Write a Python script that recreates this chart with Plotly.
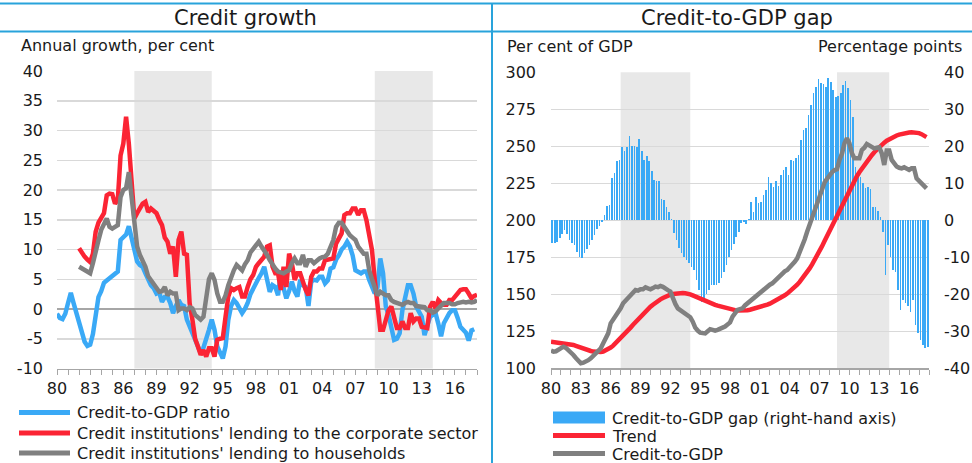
import plotly.graph_objects as go

W, H = 972, 463
def px(x): return x / W
def py(y): return 1 - y / H

# ---------------- data (quarterly) ----------------
# Left panel: annual growth, per cent
ratio_growth_start = 1980  # 1980Q1 .. 2017Q4
ratio_growth = [
    -0.8, -1.5, -1.7, -0.8,   1.0, 2.7, 1.0, -0.7,   -2.5, -4.4, -5.5, -6.2,
    -6.0, -4.2, -1.0, 2.0,    3.0, 4.4, 4.8, 5.2,    5.4, 5.9, 6.3, 11.6,
    12.0, 12.5, 13.9, 12.0,   9.9, 8.0, 7.4, 7.1,    6.0, 4.9, 4.0, 3.5,
    2.6, 2.8, 1.2, 2.0,       2.0, 1.0, -0.7, 0.5,   1.5, 0.7, 0.5, -1.8,
    -3.0, -4.1, -5.5, -6.5,   -7.4, -6.5, -5.2, -3.5, -1.8, -3.5, -6.3, -7.5,
    -8.3, -6.3, -1.8, 0.5,    1.5, 1.0, 0.2, -0.7,   0.0, 1.0, 2.5, 3.5,
    4.6, 5.2, 6.0, 7.1,       5.0, 2.9, 4.0, 3.7,    2.3, 6.0, 3.5, 1.8,
    3.0, 4.6, 3.0, 2.1,       4.9, 4.0, 3.7, 0.5,    4.6, 4.9, 4.8, 5.4,
    5.4, 4.3, 4.8, 6.8,       7.0, 8.3, 9.0, 10.0,   10.5, 11.3, 10.5, 9.0,
    6.5, 6.2, 6.0, 6.3,       6.3, 4.9, 3.5, 2.6,    3.7, 8.5, 6.0, 0.4,
    -1.0, -3.0, -5.2, -5.0,   -4.1, -0.2, 2.0, 4.0,  4.0, 2.6, 0.4, -0.5,
    -1.3, -4.4, -2.5, -1.3,   -1.0, -0.7, -2.5, -4.6, -2.4, -1.5, -0.7, -0.2,
    -0.2, -1.5, -3.0, -3.5,   -4.0, -5.3, -3.6, -3.4,
]
corp_start = 1982  # 1982Q1 .. 2018Q1
corp_lending = [
    10.2, 9.3, 8.8, 8.3,      7.9, 9.3, 13.0, 14.5,  15.2, 16.1, 19.1, 19.4,
    19.3, 17.7, 18.3, 25.8,   27.8, 32.3, 27.8, 20.5, 15.2, 16.1, 17.0, 17.7,
    18.0, 16.3, 16.9, 16.5,   16.1, 15.0, 14.1, 12.0, 11.3, 9.3, 10.5, 5.4,
    11.6, 13.0, 9.3, 9.1,     1.0, -1.8, -5.0, -6.3, -7.7, -6.9, -8.0, -6.6,
    -6.6, -8.0, -5.2, -5.0,   -4.9, -1.3, 2.1, 3.5,  3.2, 3.5, 3.7, 2.1,
    2.1, 3.7, 5.0, 5.7,       7.1, 7.7, 8.2, 8.8,    10.5, 10.7, 7.1, 6.0,
    6.0, 3.2, 7.1, 3.7,       9.3, 7.7, 4.9, 6.0,    6.0, 4.3, 3.2, 2.3,
    5.4, 6.3, 6.3, 6.8,       6.8, 8.2, 8.3, 8.5,    8.5, 11.0, 12.0, 12.7,
    15.8, 16.1, 16.1, 16.9,   16.9, 15.8, 16.6, 16.6, 14.9, 12.7, 9.9, 4.9,
    0.4, -3.5, -3.5, -1.8,    -0.2, 0.4, -1.3, -3.2, -3.2, -2.1, -3.2, -3.2,
    -0.7, -2.1, -1.6, -1.6,   -3.0, -3.2, -3.2, 0.4, 1.2, 0.1, 1.5, 1.0,
    0.7, 0.7, 1.5, 1.5,       2.1, 2.6, 3.2, 3.3,    3.3, 2.6, 1.8, 2.2,
    2.4,
]
hh_start = 1982  # 1982Q1 .. 2018Q1
hh_lending = [
    7.1, 6.8, 6.5, 6.2,       6.0, 7.7, 10.0, 11.5,  13.3, 14.3, 15.2, 13.8,
    13.5, 13.8, 14.1, 18.8,   20.0, 20.3, 23.0, 18.8, 14.4, 10.5, 9.1, 8.0,
    7.1, 5.5, 4.9, 4.0,       3.5, 2.9, 3.0, 3.7,    2.3, 2.9, 2.6, 2.6,
    -0.2, 0.1, 0.1, -0.2,     0.3, 0.1, -1.0, -1.5,  -1.8, -1.3, 2.6, 5.0,
    6.0, 4.9, 2.6, 1.2,       1.2, 2.3, 4.0, 5.4,    6.5, 7.4, 6.9, 6.5,
    7.5, 8.2, 9.5, 10.2,      10.8, 11.3, 10.5, 9.9, 9.1, 8.2, 7.4, 6.8,
    6.3, 6.2, 6.0, 6.3,       6.5, 7.7, 8.5, 7.7,    7.7, 9.1, 7.1, 8.2,
    8.2, 7.7, 8.2, 8.5,       8.7, 8.8, 9.3, 10.5,   11.6, 13.8, 14.5, 14.5,
    13.8, 13.0, 12.4, 12.0,   11.6, 10.5, 10.0, 9.3, 9.3, 6.5, 5.0, 3.7,
    2.3, 2.9, 2.6, 2.3,       2.3, 1.5, 1.2, 1.0,    1.0, 0.7, 1.0, 1.2,
    1.0, 1.0, 0.5, 0.4,       0.3, 0.3, -0.2, -0.2,  -0.6, -0.4, 0.1, 0.5,
    1.0, 1.0, 1.0, 0.8,       0.8, 1.0, 1.1, 1.2,    1.1, 1.2, 1.1, 1.2,
    1.5,
]

# Right panel: 1980Q1 .. 2017Q4
gdp_start = 1980
credit_gap = [
    -6.0, -6.2, -5.8, -4.9,   -3.7, -2.6, -3.8, -5.3, -6.2, -6.7, -8.5, -9.8,
    -10.3, -8.9, -7.8, -6.7,  -5.3, -4.0, -2.4, -1.5, -0.4, 1.4, 4.0, 4.1,
    11.4, 12.7, 15.9, 16.3,   19.7, 18.8, 19.9, 22.8, 20.1, 20.1, 19.7, 22.0,
    18.8, 16.3, 17.4, 15.9,   13.2, 10.9, 10.7, 10.5, 5.7, 5.5, 3.7, 2.3,
    0.3, -3.5, -5.3, -7.6,    -8.9, -9.8, -10.7, -11.6, -12.5, -13.4, -16.1, -18.8,
    -22.0, -21.1, -20.0, -18.8, -17.5, -17.5, -17.5, -17.0, -15.5, -14.0, -12.0, -10.0,
    -8.0, -6.5, -4.4, -3.1,   -0.8, -0.4, -1.0, 0.3, 5.0, 2.3, 6.2, 4.6,
    5.0, 6.8, 8.2, 11.8,      10.2, 9.1, 10.7, 9.3,  12.3, 13.6, 14.3, 12.3,
    16.3, 16.0, 16.8, 17.7,   21.7, 24.4, 24.9, 28.5, 31.2, 34.3, 36.1, 38.1,
    37.0, 36.8, 36.1, 38.4,   37.5, 35.2, 33.2, 33.6, 34.3, 36.6, 37.7, 35.7,
    32.5, 28.0, 14.5, 12.3,   11.8, 10.0, 8.8, 9.1,  8.4, 3.7, 3.7, 2.6,
    1.0, -3.1, -14.8, -6.7,   -10.0, -13.4, -13.9, -18.8, -24.2, -21.5, -22.4, -23.2,
    -24.7, -21.5, -28.3, -30.5, -32.3, -33.7, -34.6, -34.2,
]
trend = [
    118.0, 117.8, 117.5, 117.3, 117.2, 117.0, 116.9, 116.6, 116.3, 115.8, 115.2, 114.5,
    113.8, 113.2, 112.6, 112.0, 111.7, 111.3, 111.0, 110.9, 111.0, 111.3, 112.0, 113.0,
    114.0, 115.3, 116.9, 118.5, 120.3, 122.0, 123.8, 125.6, 127.5, 129.4, 131.3, 133.2,
    135.0, 136.6, 138.3, 140.0, 141.6, 143.0, 144.4, 145.6, 146.6, 147.5, 148.4, 149.2,
    149.8, 150.2, 150.5, 150.7, 150.8, 150.8, 150.7, 150.5, 150.0, 149.3, 148.5, 147.7,
    146.9, 146.2, 145.5, 145.0, 144.2, 143.5, 142.9, 142.3, 141.8, 141.3, 140.8, 140.3,
    139.9, 139.6, 139.3, 139.1, 139.0, 139.0, 139.1, 139.3, 139.6, 140.0, 140.4, 140.8,
    141.3, 141.8, 142.4, 143.0, 143.7, 144.5, 145.3, 146.2, 147.2, 148.2, 149.3, 150.5,
    151.8, 153.2, 154.8, 156.5, 158.4, 160.4, 162.6, 165.0, 167.5, 170.2, 173.0, 176.0,
    179.2, 182.5, 186.0, 189.5, 193.0, 196.5, 200.0, 203.5, 207.0, 210.5, 214.0, 217.5,
    220.8, 224.0, 227.0, 229.8, 232.5, 235.0, 237.5, 239.8, 242.0, 244.0, 246.0, 247.8,
    249.5, 251.0, 252.5, 253.8, 254.8, 255.8, 256.6, 257.3, 257.9, 258.4, 258.8, 259.1,
    259.3, 259.5, 259.5, 259.3, 258.9, 258.2, 257.3, 256.2,
]
credit_to_gdp = [
    112.0, 111.3, 111.5, 112.5, 113.3, 114.6, 113.8, 112.4, 111.0, 109.0, 107.0, 105.0,
    103.4, 103.8, 104.5, 105.5, 106.8, 108.3, 110.1, 111.8, 113.5, 116.9, 120.0, 123.6,
    130.4, 133.0, 134.5, 138.3, 140.5, 143.9, 145.5, 147.3, 149.0, 150.7, 152.9, 152.5,
    153.4, 153.4, 154.7, 154.0, 153.4, 154.2, 155.2, 154.8, 155.6, 155.0, 153.4, 152.8,
    151.8, 147.3, 143.5, 140.5, 139.2, 138.3, 137.5, 136.0, 134.5, 131.5, 127.5, 125.5,
    124.1, 123.8, 123.6, 125.0, 126.4, 126.0, 125.5, 126.0, 126.4, 127.5, 128.2, 129.5,
    131.0, 134.9, 137.0, 139.4, 140.0, 140.5, 142.5, 143.9, 145.5, 147.3, 148.5, 149.5,
    151.0, 152.9, 154.5, 155.6, 156.5, 157.4, 159.0, 160.8, 163.0, 164.2, 165.5, 166.4,
    168.0, 169.8, 172.0, 174.3, 178.0, 182.2, 187.0, 192.3, 197.0, 203.0, 208.0, 212.0,
    218.0, 222.0, 225.5, 228.0, 231.0, 232.5, 234.0, 234.5, 240.8, 245.0, 252.0, 255.4,
    252.0, 245.3, 241.9, 241.9, 241.9, 247.5, 249.0, 251.6, 250.5, 250.2, 248.6, 249.0,
    249.3, 245.3, 237.4, 247.1, 247.1, 240.8, 238.5, 236.3, 235.5, 235.1, 235.8, 235.0,
    234.0, 235.1, 235.1, 228.4, 226.5, 225.0, 223.0, 221.6,
]

shaded_periods = [(1987.0, 1994.0), (2008.75, 2014.0)]
tick_years = list(range(1980, 2017, 3))
tick_text = [str(y)[2:] for y in tick_years]
growth_ticks = list(range(-10, 41, 5))
gdp_ticks = list(range(100, 301, 25))
gap_ticks = list(range(-40, 41, 10))

# ---------------- colours ----------------
BLUE = "#3aa9f6"
RED = "#fb2434"
GREY = "#808080"
HEAD = "#29a3db"
GRID = "#d9d9d9"
SHADE = "#e8e8e8"
TXT = "#1a1a1a"
FONT = "DejaVu Sans"

def qx(start, n, off=0.0):
    return [start + i / 4 + off for i in range(n)]

def labels(vals):
    return [str(v) for v in vals]   # plain hyphen-minus, as in the original

fig = go.Figure()

fig.add_trace(go.Scatter(x=qx(ratio_growth_start, len(ratio_growth)), y=ratio_growth,
                         mode="lines", line=dict(color=BLUE, width=4.5),
                         xaxis="x", yaxis="y", showlegend=False))
fig.add_trace(go.Scatter(x=qx(corp_start, len(corp_lending)), y=corp_lending,
                         mode="lines", line=dict(color=RED, width=4.5),
                         xaxis="x", yaxis="y", showlegend=False))
fig.add_trace(go.Scatter(x=qx(hh_start, len(hh_lending)), y=hh_lending,
                         mode="lines", line=dict(color=GREY, width=4.5),
                         xaxis="x", yaxis="y", showlegend=False))

fig.add_trace(go.Bar(x=qx(gdp_start, len(credit_gap), 0.125), y=credit_gap,
                     width=0.16, marker=dict(color=BLUE, line=dict(width=0)),
                     xaxis="x2", yaxis="y2", showlegend=False))
fig.add_trace(go.Scatter(x=qx(gdp_start, len(trend)), y=trend,
                         mode="lines", line=dict(color=RED, width=4.5),
                         xaxis="x2", yaxis="y3", showlegend=False))
fig.add_trace(go.Scatter(x=qx(gdp_start, len(credit_to_gdp)), y=credit_to_gdp,
                         mode="lines", line=dict(color=GREY, width=4.5),
                         xaxis="x2", yaxis="y3", showlegend=False))

tickfont = dict(family=FONT, size=16, color=TXT)

xcommon = dict(tickmode="array", tickvals=tick_years, ticktext=tick_text,
               ticks="outside", ticklen=5, tickcolor="#a6a6a6", tickwidth=1,
               minor=dict(tickmode="linear", tick0=1980, dtick=1, ticks="outside",
                          ticklen=5, tickcolor="#a6a6a6", tickwidth=1),
               showline=True, linecolor="#a6a6a6", linewidth=1.5,
               showgrid=False, zeroline=False, tickfont=tickfont,
               range=[1980, 2018], automargin=False)

fig.update_layout(
    template="none",
    width=W, height=H, margin=dict(l=0, r=0, t=0, b=0, autoexpand=False),
    paper_bgcolor="white", plot_bgcolor="white",
    showlegend=False,
    bargap=0, barmode="overlay",
    xaxis=dict(domain=[px(57), px(477)], anchor="y", **xcommon),
    yaxis=dict(domain=[py(368.5), py(71)], range=[-10, 40],
               tickmode="array", tickvals=growth_ticks, ticktext=labels(growth_ticks),
               showgrid=True, gridcolor=GRID, gridwidth=1.5,
               zeroline=True, zerolinecolor="#a6a6a6", zerolinewidth=2,
               showline=False, automargin=False,
               ticks="", ticklabelstandoff=13, tickfont=tickfont, anchor="x"),
    xaxis2=dict(domain=[px(551), px(929)], anchor="y2", **xcommon),
    yaxis2=dict(domain=[py(368.3), py(72.3)], range=[-40, 40],
                tickmode="array", tickvals=gap_ticks, ticktext=labels(gap_ticks),
                side="right", anchor="x2", showgrid=True, gridcolor=GRID, gridwidth=1.5,
                zeroline=False, showline=False, automargin=False,
                ticks="", ticklabelstandoff=14, tickfont=tickfont),
    yaxis3=dict(range=[100, 300],
                tickmode="array", tickvals=gdp_ticks, ticktext=labels(gdp_ticks),
                overlaying="y2", side="left",
                anchor="x2", showgrid=False, zeroline=False, showline=False,
                automargin=False, ticks="",
                ticklabelstandoff=14, tickfont=tickfont),
)

shapes = []
for (a, b) in shaded_periods:
    shapes.append(dict(type="rect", xref="x", yref="y domain", x0=a, x1=b, y0=0, y1=1,
                       fillcolor=SHADE, line=dict(width=0), layer="below"))
    shapes.append(dict(type="rect", xref="x2", yref="y2 domain", x0=a, x1=b, y0=0, y1=1,
                       fillcolor=SHADE, line=dict(width=0), layer="below"))

# header frame lines
shapes.append(dict(type="line", xref="paper", yref="paper", x0=0, x1=1, y0=py(3.5), y1=py(3.5),
                   line=dict(color=HEAD, width=2)))
shapes.append(dict(type="line", xref="paper", yref="paper", x0=0, x1=1, y0=py(31.5), y1=py(31.5),
                   line=dict(color=HEAD, width=2)))
shapes.append(dict(type="line", xref="paper", yref="paper", x0=px(492), x1=px(492), y0=py(3), y1=0,
                   line=dict(color=HEAD, width=2)))

# legend samples (left)
for yy, col in [(412.5, BLUE), (433, RED), (453, GREY)]:
    shapes.append(dict(type="line", xref="paper", yref="paper", x0=px(19), x1=px(70),
                       y0=py(yy), y1=py(yy), line=dict(color=col, width=5)))
# legend samples (right)
shapes.append(dict(type="rect", xref="paper", yref="paper", x0=px(553), x1=px(605),
                   y0=py(423.5), y1=py(411.5), fillcolor=BLUE, line=dict(width=0)))
for yy, col in [(435.5, RED), (453.5, GREY)]:
    shapes.append(dict(type="line", xref="paper", yref="paper", x0=px(553), x1=px(605),
                       y0=py(yy), y1=py(yy), line=dict(color=col, width=5)))

fig.update_layout(shapes=shapes)

def txt(x, y, s, size=16, xanchor="left"):
    return dict(xref="paper", yref="paper", x=px(x), y=py(y), text=s, showarrow=False,
                xanchor=xanchor, yanchor="middle", font=dict(family=FONT, size=size, color=TXT))

annotations = [
    txt(245.5, 18, "Credit growth", size=21, xanchor="center"),
    txt(737, 18, "Credit-to-GDP gap", size=21, xanchor="center"),
    txt(19, 45, "Annual growth, per cent"),
    txt(505, 46, "Per cent of GDP"),
    txt(964, 46, "Percentage points", xanchor="right"),
    txt(75, 412.5, "Credit-to-GDP ratio"),
    txt(75, 433, "Credit institutions' lending to the corporate sector"),
    txt(75, 453, "Credit institutions' lending to households"),
    txt(610, 418, "Credit-to-GDP gap (right-hand axis)"),
    txt(610, 436, "Trend"),
    txt(610, 454, "Credit-to-GDP"),
]
fig.update_layout(annotations=annotations)

fig.write_html("out.html",
               config={"displayModeBar": False, "staticPlot": True},
               post_script="document.body.style.margin='0';document.body.style.padding='0';"
                           "document.body.style.overflow='hidden';")
